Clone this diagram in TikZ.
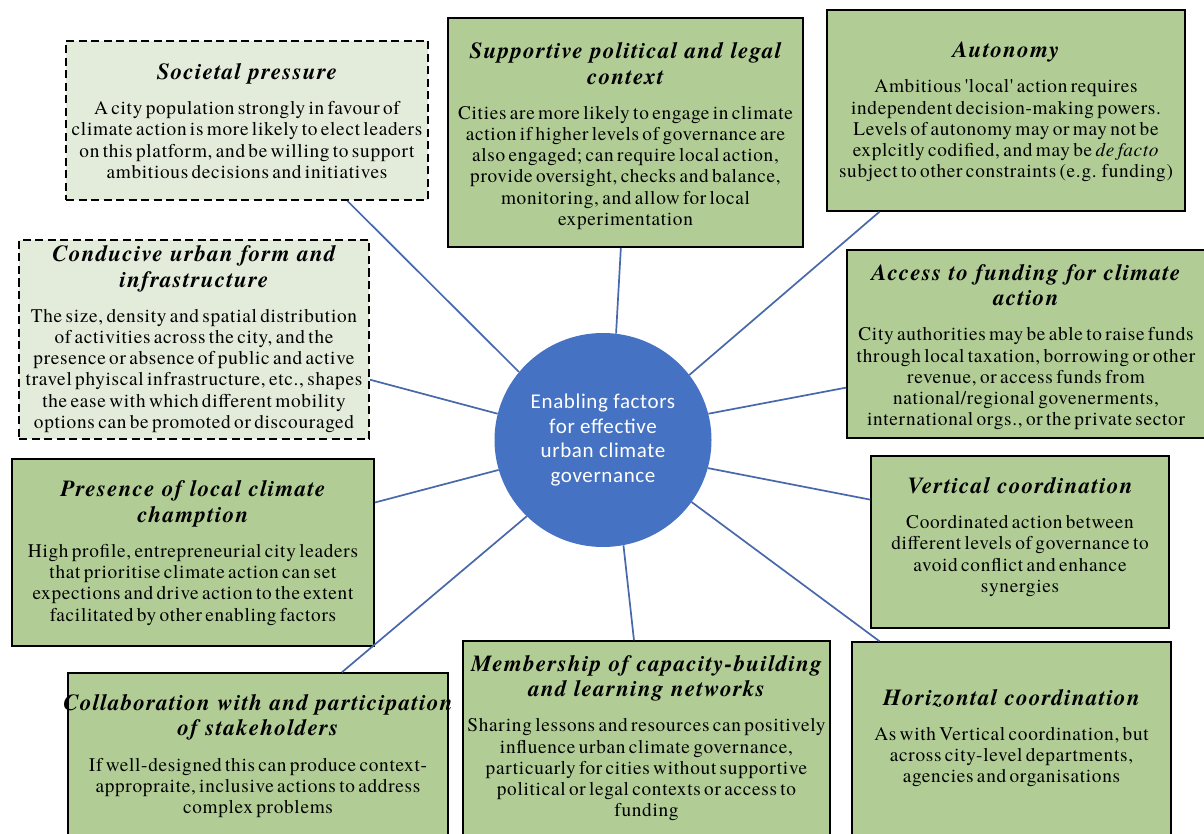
\documentclass[tikz,border=0pt]{standalone}
\usepackage{fontspec}
\setmainfont{texgyretermes}[Extension=.otf, UprightFont=*-regular, BoldFont=*-bold, ItalicFont=*-italic, BoldItalicFont=*-bolditalic]
\newfontfamily\bodyf{texgyretermes}[Extension=.otf, UprightFont=*-regular, BoldFont=*-bold, ItalicFont=*-italic, BoldItalicFont=*-bolditalic, LetterSpace=3.6]
\newfontfamily\headf{texgyretermes}[Extension=.otf, UprightFont=*-regular, BoldFont=*-bold, ItalicFont=*-italic, BoldItalicFont=*-bolditalic, LetterSpace=5.5]
\usetikzlibrary{shapes.geometric,calc}
\newfontfamily\centf{Carlito}[LetterSpace=3]
\definecolor{boxgreen}{RGB}{177,205,149}
\definecolor{boxlight}{RGB}{227,235,218}
\definecolor{hubblue}{RGB}{70,114,196}
\definecolor{linkblue}{RGB}{72,104,172}
\newcommand{\hd}[1]{{\headf\bfseries\itshape\fontsize{23}{25.5}\selectfont\spaceskip=0.33em\relax #1\par}\vspace{14pt}}
\newcommand{\bd}[1]{{\bodyf\fontsize{19.3}{21.2}\selectfont #1\par}}
\begin{document}
\begin{tikzpicture}[x=1pt,y=-1pt,
  solidbox/.style={draw=black, line width=1.6pt, fill=boxgreen, rectangle, inner sep=0pt},
  dashbox/.style={draw=black, line width=2pt, dash pattern=on 8pt off 4.5pt, fill=boxlight, rectangle, inner sep=0pt},
  boxtext/.style={align=center, inner sep=0pt, text=black},
  link/.style={draw=linkblue, line width=1.7pt},
  hub/.style={ellipse, fill=hubblue, inner sep=0pt, minimum width=217pt, minimum height=214pt, text=white, align=center, font=\centf\fontsize{21}{24.5}\selectfont}
]
\useasboundingbox[fill=white] (0,0) rectangle (1204,834);

% boxes
\node[dashbox,  minimum width=362pt, minimum height=159pt] (soc) at (247,120.5) {};
\node[solidbox, minimum width=355pt, minimum height=229pt] (sup) at (625.5,132.5) {};
\node[solidbox, minimum width=358pt, minimum height=201pt] (aut) at (1006,110.5) {};
\node[dashbox,  minimum width=350pt, minimum height=199pt] (con) at (194,339.5) {};
\node[solidbox, minimum width=363pt, minimum height=188pt] (acc) at (1028.5,344) {};
\node[solidbox, minimum width=362pt, minimum height=187pt] (pre) at (193,552.5) {};
\node[solidbox, minimum width=298pt, minimum height=172pt] (ver) at (1020,542) {};
\node[solidbox, minimum width=319pt, minimum height=203pt] (hor) at (1011.5,743.5) {};
\node[solidbox, minimum width=367pt, minimum height=204pt] (mem) at (646.5,743) {};
\node[solidbox, minimum width=380pt, minimum height=172pt] (col) at (258,759) {};

% texts
\node[boxtext, text width=390pt] (socT) at (247,121) {\hd{Societal pressure}\bd{A city population strongly in favour of\\climate action is more likely to elect leaders\\on this platform, and be willing to support\\ambitious decisions and initiatives}};
\node[boxtext, text width=390pt] (supT) at (625.5,136) {\hd{Supportive political and legal\\context}\bd{Cities are more likely to engage in climate\\action if higher levels of governance are\\also engaged; can require local action,\\provide oversight, checks and balance,\\monitoring, and allow for local\\experimentation}};
\node[boxtext, text width=390pt] (autT) at (1006,112) {\hd{Autonomy}\bd{Ambitious 'local' action requires\\independent decision-making powers.\\Levels of autonomy may or may not be\\explcitly codified, and may be \textit{de facto}\\subject to other constraints (e.g. funding)}};
\node[boxtext, text width=390pt] (conT) at (194,339) {\hd{Conducive urban form and\\infrastructure}\bd{The size, density and spatial distribution\\of activities across the city, and the\\presence or absence of public and active\\travel phyiscal infrastructure, etc., shapes\\the ease with which different mobility\\options can be promoted or discouraged}};
\node[boxtext, text width=390pt] (accT) at (1026,347) {\hd{Access to funding for climate\\action}\bd{City authorities may be able to raise funds\\through local taxation, borrowing or other\\revenue, or access funds from\\national/regional govenerments,\\international orgs., or the private sector}};
\node[boxtext, text width=390pt] (preT) at (193,553) {\hd{Presence of local climate\\chamption}\bd{High profile, entrepreneurial city leaders\\that prioritise climate action can set\\expections and drive action to the extent\\facilitated by other enabling factors}};
\node[boxtext, text width=390pt] (verT) at (1020,537) {\hd{Vertical coordination}\bd{Coordinated action between\\different levels of governance to\\avoid conflict and enhance\\synergies}};
\node[boxtext, text width=390pt] (horT) at (1011.5,738) {\hd{Horizontal coordination}\bd{As with Vertical coordination, but\\across city-level departments,\\agencies and organisations}};
\node[boxtext, text width=400pt] (memT) at (646.5,738) {\hd{Membership of capacity-building\\and learning networks}\bd{Sharing lessons and resources can positively\\influence urban climate governance,\\particuarly for cities without supportive\\political or legal contexts or access to\\funding}};
\node[boxtext, text width=410pt] (colT) at (258,756) {\hd{Collaboration with and participation\\of stakeholders}\bd{If well-designed this can produce context-\\appropraite, inclusive actions to address\\complex problems}};

% hub
\node[hub] (c) at (603,440) {Enabling factors\\for effective\\urban climate\\governance};

% connectors
\draw[link] ($(soc.south west)!0.776!(soc.south east)$) -- (c.141);
\draw[link] ($(sup.south west)!0.487!(sup.south east)$) -- (c.83);
\draw[link] ($(aut.south west)!0.148!(aut.south east)$) -- (c.37);
\draw[link] ($(con.north east)!0.70!(con.south east)$) -- (c.166);
\draw[link] ($(acc.north west)!0.73!(acc.south west)$) -- (c.14);
\draw[link] ($(pre.north east)!0.235!(pre.south east)$) -- (c.196);
\draw[link] ($(ver.north west)!0.256!(ver.south west)$) -- (c.345);
\draw[link] ($(col.north west)!0.72!(col.north east)$) -- (c.225);
\draw[link] ($(mem.north west)!0.466!(mem.north east)$) -- (c.281);
\draw[link] ($(hor.north west)!0.088!(hor.north east)$) -- (c.325);
\end{tikzpicture}
\end{document}
